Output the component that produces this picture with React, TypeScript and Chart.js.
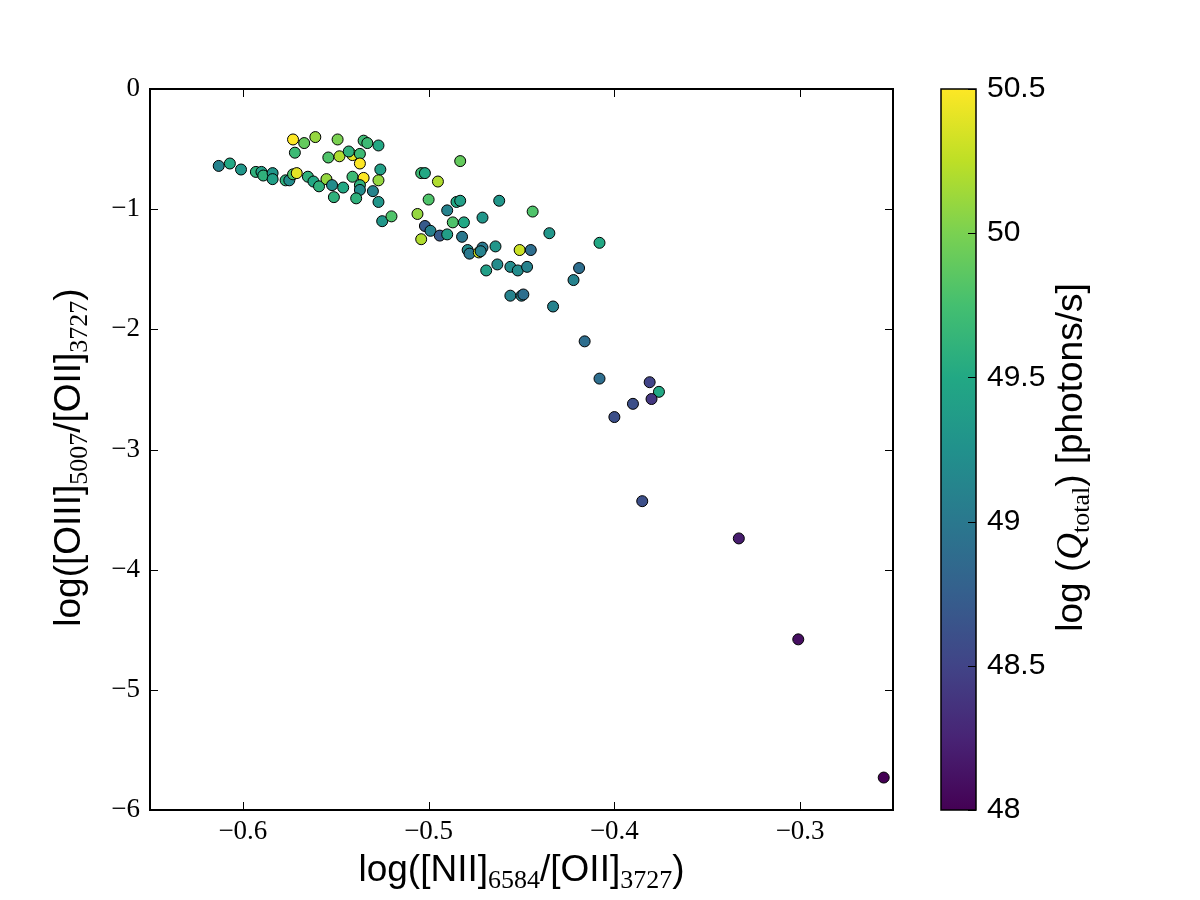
import React, { useEffect, useRef } from "react";
import { Chart, registerables } from "chart.js";

Chart.register(...registerables);

// log([NII]6584/[OII]3727)
const nIIoII = [
  -0.613, -0.607, -0.601, -0.593, -0.590, -0.589, -0.584, -0.584, -0.577, -0.575,
  -0.573, -0.571, -0.573, -0.567, -0.561, -0.572, -0.565, -0.549, -0.535, -0.533,
  -0.527, -0.554, -0.548, -0.541, -0.537, -0.543, -0.537, -0.526, -0.527, -0.541,
  -0.535, -0.537, -0.530, -0.537, -0.539, -0.527, -0.525, -0.520, -0.562, -0.559,
  -0.555, -0.552, -0.546, -0.551, -0.483, -0.504, -0.502, -0.495, -0.500, -0.506,
  -0.490, -0.485, -0.483, -0.462, -0.471, -0.487, -0.481, -0.502, -0.499, -0.504,
  -0.494, -0.490, -0.482, -0.479, -0.478, -0.473, -0.471, -0.472, -0.464, -0.469,
  -0.463, -0.444, -0.435, -0.408, -0.451, -0.445, -0.456, -0.452, -0.447, -0.419,
  -0.422, -0.456, -0.450, -0.449, -0.433, -0.416, -0.408, -0.381, -0.376, -0.380,
  -0.390, -0.400, -0.385, -0.333, -0.301, -0.255,
];

// log([OIII]5007/[OII]3727)
const oIIIoII = [
  -0.64, -0.62, -0.67, -0.69, -0.69, -0.72, -0.70, -0.75, -0.76, -0.76,
  -0.71, -0.70, -0.42, -0.45, -0.40, -0.53, -0.73, -0.42, -0.43, -0.45,
  -0.47, -0.57, -0.56, -0.55, -0.54, -0.52, -0.62, -0.67, -0.76, -0.73,
  -0.74, -0.80, -0.85, -0.84, -0.91, -0.94, -1.10, -1.06, -0.77, -0.81,
  -0.75, -0.80, -0.82, -0.90, -0.60, -0.70, -0.70, -0.77, -0.92, -1.04,
  -1.01, -0.94, -0.93, -0.93, -1.07, -1.11, -1.11, -1.14, -1.18, -1.25,
  -1.22, -1.21, -1.23, -1.34, -1.37, -1.36, -1.32, -1.35, -1.31, -1.51,
  -1.46, -1.02, -1.20, -1.28, -1.34, -1.34, -1.48, -1.51, -1.48, -1.49,
  -1.59, -1.72, -1.72, -1.71, -1.81, -2.10, -2.41, -2.44, -2.52, -2.58,
  -2.62, -2.73, -3.43, -3.74, -4.58, -5.73,
];

// log(Q_total) [photons/s]
const logQ = [
  49.1, 49.5, 49.3, 49.6, 49.4, 49.6, 49.3, 49.4, 49.6, 49.2,
  49.8, 50.4, 50.5, 49.9, 50.1, 49.7, 49.6, 50.0, 49.7, 49.7,
  49.5, 49.8, 50.2, 50.4, 49.7, 49.6, 50.5, 49.4, 50.1, 49.7,
  50.5, 49.6, 49.1, 49.2, 49.6, 49.3, 49.3, 49.8, 49.5, 49.6,
  50.1, 49.2, 49.5, 49.6, 49.9, 49.7, 49.5, 50.2, 49.8, 50.1,
  49.1, 49.5, 49.4, 49.3, 49.3, 49.8, 49.5, 48.7, 49.1, 50.2,
  48.7, 49.4, 49.0, 49.2, 49.0, 50.3, 49.0, 49.1, 49.3, 49.4,
  49.2, 49.8, 49.3, 49.5, 50.3, 48.9, 49.2, 49.2, 49.1, 48.9,
  49.1, 49.1, 49.1, 48.9, 49.1, 48.9, 48.9, 48.5, 49.5, 48.4,
  48.6, 48.6, 48.6, 48.2, 48.1, 48.0,
];

const xTicks = [-0.6, -0.5, -0.4, -0.3];
const yTicks = [0, -1, -2, -3, -4, -5, -6];
const cbTicks = [48, 48.5, 49, 49.5, 50, 50.5];
const xRange = [-0.65, -0.25];
const yRange = [-6, 0];
const qRange = [48, 50.5];

const VIRIDIS = [
  "#440154", "#482475", "#414487", "#355f8d", "#2a788e", "#21918c",
  "#22a884", "#44bf70", "#7ad151", "#bddf26", "#fde725",
];

function hexToRgb(h: string) {
  return [parseInt(h.slice(1, 3), 16), parseInt(h.slice(3, 5), 16), parseInt(h.slice(5, 7), 16)];
}

function viridis(t: number) {
  const c = Math.max(0, Math.min(1, t)) * (VIRIDIS.length - 1);
  const i = Math.min(VIRIDIS.length - 2, Math.floor(c));
  const f = c - i;
  const a = hexToRgb(VIRIDIS[i]);
  const b = hexToRgb(VIRIDIS[i + 1]);
  const m = a.map((v, k) => Math.round(v + (b[k] - v) * f));
  return `rgb(${m[0]},${m[1]},${m[2]})`;
}

const fmt = (v: number) => String(Math.round(v * 10) / 10).replace("-", "\u2212");

const SANS = "'Liberation Sans', Arial, sans-serif";
const SERIF = "'Liberation Serif', 'Times New Roman', serif";

type Seg = { t: string; font: string; dy?: number };

function drawRich(ctx: CanvasRenderingContext2D, segs: Seg[], cx: number, cy: number, rot: number) {
  ctx.save();
  ctx.translate(cx, cy);
  ctx.rotate(rot);
  let w = 0;
  segs.forEach((s) => {
    ctx.font = s.font;
    w += ctx.measureText(s.t).width;
  });
  let x = -w / 2;
  ctx.textBaseline = "alphabetic";
  ctx.textAlign = "left";
  ctx.fillStyle = "#000";
  segs.forEach((s) => {
    ctx.font = s.font;
    ctx.fillText(s.t, x, s.dy || 0);
    x += ctx.measureText(s.t).width;
  });
  ctx.restore();
}

const BIG = `37px ${SANS}`;
const SUB = `26px ${SERIF}`;
const SUBDY = 7;

const frameTicks = {
  id: "frameTicks",
  afterDraw(chart: any) {
    const { ctx, chartArea: a, scales } = chart;
    const L = 8;
    ctx.save();
    ctx.strokeStyle = "#000";
    ctx.lineWidth = 1;
    ctx.beginPath();
    scales.x.ticks.forEach((t: any) => {
      const p = Math.round(scales.x.getPixelForValue(t.value)) + 0.5;
      ctx.moveTo(p, a.bottom);
      ctx.lineTo(p, a.bottom - L);
      ctx.moveTo(p, a.top);
      ctx.lineTo(p, a.top + L);
    });
    scales.y.ticks.forEach((t: any) => {
      const p = Math.round(scales.y.getPixelForValue(t.value)) + 0.5;
      ctx.moveTo(a.left, p);
      ctx.lineTo(a.left + L, p);
      ctx.moveTo(a.right, p);
      ctx.lineTo(a.right - L, p);
    });
    ctx.stroke();
    ctx.lineWidth = 2;
    ctx.strokeRect(a.left, a.top, a.right - a.left, a.bottom - a.top);
    ctx.restore();

    drawRich(
      ctx,
      [
        { t: "log([NII]", font: BIG },
        { t: "6584", font: SUB, dy: SUBDY },
        { t: "/[OII]", font: BIG },
        { t: "3727", font: SUB, dy: SUBDY },
        { t: ")", font: BIG },
      ],
      (a.left + a.right) / 2,
      881,
      0
    );
    drawRich(
      ctx,
      [
        { t: "log([OIII]", font: BIG },
        { t: "5007", font: SUB, dy: SUBDY },
        { t: "/[OII]", font: BIG },
        { t: "3727", font: SUB, dy: SUBDY },
        { t: ")", font: BIG },
      ],
      80,
      (a.top + a.bottom) / 2 + 8,
      -Math.PI / 2
    );
  },
};

const colorbarPlugin = {
  id: "colorbarFill",
  beforeDatasetsDraw(chart: any) {
    const { ctx, chartArea: a, scales } = chart;
    const y = scales.y;
    const g = ctx.createLinearGradient(0, y.getPixelForValue(qRange[0]), 0, y.getPixelForValue(qRange[1]));
    VIRIDIS.forEach((c, i) => g.addColorStop(i / (VIRIDIS.length - 1), c));
    ctx.save();
    ctx.fillStyle = g;
    ctx.fillRect(a.left, a.top, a.right - a.left, a.bottom - a.top);
    ctx.strokeStyle = "#000";
    ctx.lineWidth = 1;
    ctx.beginPath();
    y.ticks.forEach((t: any) => {
      const p = Math.round(y.getPixelForValue(t.value)) + 0.5;
      ctx.moveTo(a.right, p);
      ctx.lineTo(a.right - 8, p);
    });
    ctx.stroke();
    ctx.lineWidth = 1.5;
    ctx.strokeRect(a.left, a.top, a.right - a.left, a.bottom - a.top);
    ctx.restore();

    drawRich(
      ctx,
      [
        { t: "log (", font: BIG },
        { t: "Q", font: `italic 37px ${SERIF}` },
        { t: "total", font: SUB, dy: SUBDY },
        { t: ") [photons/s]", font: BIG },
      ],
      182,
      (a.top + a.bottom) / 2 + 8,
      -Math.PI / 2
    );
  },
};

export default function App() {
  const mainRef = useRef<HTMLCanvasElement>(null);
  const cbRef = useRef<HTMLCanvasElement>(null);

  useEffect(() => {
    const points = nIIoII.map((x, i) => ({ x, y: oIIIoII[i] }));
    const colors = logQ.map((q) => viridis((q - qRange[0]) / (qRange[1] - qRange[0])));

    const main = new Chart(mainRef.current!, {
      type: "scatter",
      data: {
        datasets: [
          {
            data: points,
            pointBackgroundColor: colors,
            pointBorderColor: "#000",
            pointBorderWidth: 1,
            pointRadius: 5.5,
            pointHoverRadius: 5.5,
          },
        ],
      },
      options: {
        animation: false,
        responsive: false,
        events: [],
        layout: { padding: { left: 0, top: 89, right: 307, bottom: 0 } },
        plugins: { legend: { display: false }, tooltip: { enabled: false } },
        scales: {
          x: {
            type: "linear",
            min: xRange[0],
            max: xRange[1],
            afterBuildTicks: (s: any) => {
              s.ticks = xTicks.map((v) => ({ value: v }));
            },
            afterFit: (s: any) => {
              s.height = 90;
            },
            grid: { display: false, drawTicks: false },
            border: { display: false },
            ticks: {
              color: "#000",
              padding: 6,
              maxRotation: 0,
              font: { family: SERIF, size: 27 },
              callback: (v: any) => fmt(Number(v)),
            },
          },
          y: {
            type: "linear",
            min: yRange[0],
            max: yRange[1],
            afterBuildTicks: (s: any) => {
              s.ticks = yTicks.map((v) => ({ value: v }));
            },
            afterFit: (s: any) => {
              s.width = 150;
            },
            grid: { display: false, drawTicks: false },
            border: { display: false },
            ticks: {
              color: "#000",
              padding: 10,
              font: { family: SERIF, size: 27 },
              callback: (v: any) => fmt(Number(v)),
            },
          },
        },
      },
      plugins: [frameTicks],
    } as any);

    const cb = new Chart(cbRef.current!, {
      type: "scatter",
      data: { datasets: [] },
      options: {
        animation: false,
        responsive: false,
        events: [],
        layout: { padding: { left: 41, top: 89, right: 0, bottom: 90 } },
        plugins: { legend: { display: false }, tooltip: { enabled: false } },
        scales: {
          x: { display: false, min: 0, max: 1 },
          y: {
            type: "linear",
            position: "right",
            min: qRange[0],
            max: qRange[1],
            afterBuildTicks: (s: any) => {
              s.ticks = cbTicks.map((v) => ({ value: v }));
            },
            afterFit: (s: any) => {
              s.width = 224;
            },
            grid: { display: false, drawTicks: false },
            border: { display: false },
            ticks: {
              color: "#000",
              padding: 11,
              font: { family: SANS, size: 30 },
              callback: (v: any) => fmt(Number(v)),
            },
          },
        },
      },
      plugins: [colorbarPlugin],
    } as any);

    return () => {
      main.destroy();
      cb.destroy();
    };
  }, []);

  return (
    <div style={{ position: "absolute", left: 0, top: 0, width: 1200, height: 900, background: "#fff" }}>
      <canvas ref={mainRef} width={1200} height={900} style={{ position: "absolute", left: 0, top: 0 }} />
      <canvas ref={cbRef} width={300} height={900} style={{ position: "absolute", left: 900, top: 0 }} />
    </div>
  );
}
